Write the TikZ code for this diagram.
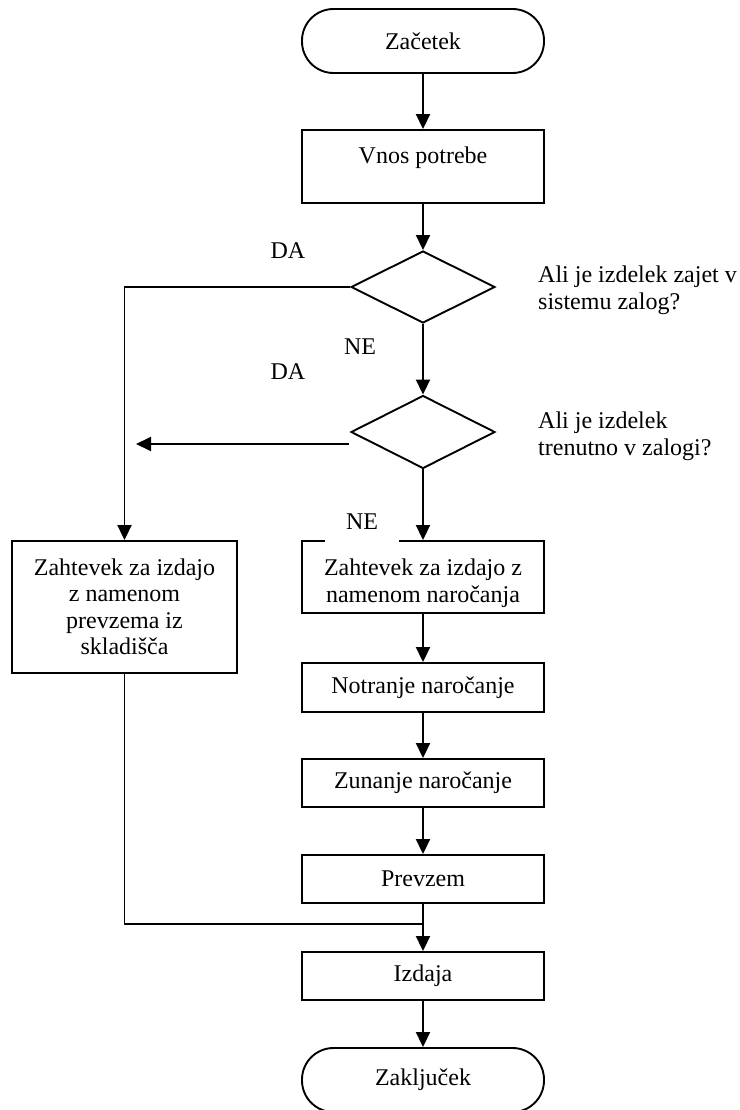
\documentclass[tikz,border=0pt]{standalone}
\usepackage{fontspec}
\setmainfont{Liberation Serif}
\usetikzlibrary{arrows.meta,shapes.geometric}

\begin{document}
\begin{tikzpicture}[x=1pt,y=-1pt,
  every node/.style={font=\fontsize{24}{26.5}\selectfont},
  proc/.style={draw, line width=1.9pt, minimum width=242pt, inner sep=0pt, align=center},
  term/.style={proc, rounded corners=31.5pt, minimum height=64pt},
  decision/.style={draw, diamond, line width=1.9pt, inner sep=0pt,
                   minimum width=144pt, minimum height=72pt},
  flow/.style={line width=1.9pt, -{Triangle[length=15pt,width=14pt]}},
  link/.style={line width=1.9pt},
  lbl/.style={inner sep=0pt, anchor=base},
  note/.style={inner sep=0pt, anchor=base west, align=left}]

  \useasboundingbox (0,0) rectangle (739,1110);

  % main column
  \node[term] (start) at (423,41) {Za\v{c}etek};
  \node[proc, inner ysep=0pt, text height=34pt, text depth=39pt] (vnos) at (423,166.5) {Vnos potrebe};
  \node[decision] (d1) at (423,287) {};
  \node[decision, minimum height=73pt] (d2) at (423,432) {};
  \node[proc, minimum height=72pt] (nar) at (423,577)
    {\rule{0pt}{29pt}Zahtevek za izdajo z\\namenom naro\v{c}anja};
  \node[proc, minimum height=49pt] (notr) at (423,687.5) {Notranje naro\v{c}anje};
  \node[proc, minimum height=48pt] (zun) at (423,783) {Zunanje naro\v{c}anje};
  \node[proc, minimum height=48pt] (prev) at (423,879) {Prevzem};
  \node[proc, minimum height=48pt] (izd) at (423,976) {Izdaja};
  \node[term] (end) at (423,1080) {Zaklju\v{c}ek};

  % left branch
  \node[proc, minimum width=225pt, minimum height=132pt] (skl) at (124.5,607)
    {Zahtevek za izdajo\\z namenom\\prevzema iz\\skladi\v{s}\v{c}a};

  % questions beside the decisions (anchored at the last line's baseline)
  \node[note] (q1) at (538,309) {Ali je izdelek zajet v\\sistemu zalog?};
  \node[note] (q2) at (538,455) {Ali je izdelek\\trenutno v zalogi?};

  % branch labels
  \node[lbl] (da1) at (288,258) {DA};
  \node[lbl] (ne1) at (360,354) {NE};
  \node[lbl] (da2) at (288,379) {DA};
  \node[lbl, fill=white, minimum width=74pt, text depth=14pt] (ne2) at (362,529) {NE};

  % connectors
  \coordinate (tip2) at (136,444);
  \coordinate (join) at (423,924);

  \draw[flow] (start) -- (vnos);
  \draw[flow] (vnos) -- (d1);
  \draw[flow] (d1) -- (d2);
  \draw[flow] (d2) -- (nar);
  \draw[flow] (nar) -- (notr);
  \draw[flow] (notr) -- (zun);
  \draw[flow] (zun) -- (prev);
  \draw[flow] (prev) -- (izd);
  \draw[flow] (izd) -- (end);

  \draw[flow] (d1.west) -| (skl.north);
  \draw[flow] ([xshift=-1pt,yshift=-12pt]d2.west) -- (tip2);
  \draw[link] (skl.south) |- (join);
\end{tikzpicture}
\end{document}
